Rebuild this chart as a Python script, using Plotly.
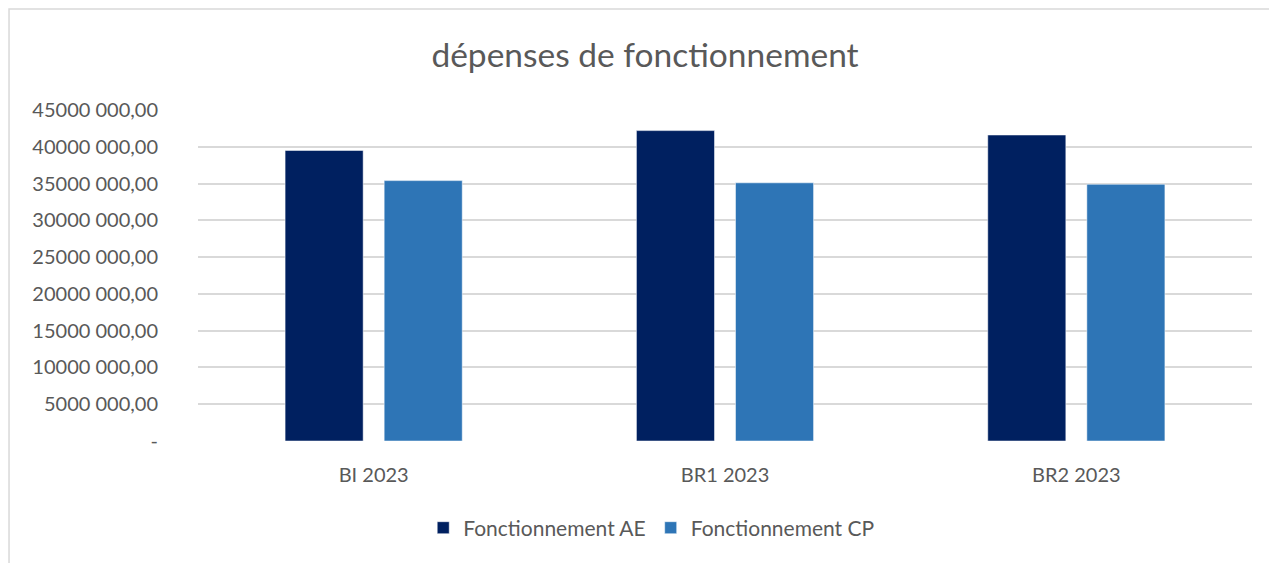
import plotly.graph_objects as go

categories = ["BI 2023", "BR1 2023", "BR2 2023"]
ae_values = [39500000, 42200000, 41600000]
cp_values = [35400000, 35100000, 34900000]

tick_vals = [0, 5e6, 10e6, 15e6, 20e6, 25e6, 30e6, 35e6, 40e6, 45e6]
tick_text = ["-", "5000 000,00", "10000 000,00", "15000 000,00", "20000 000,00",
             "25000 000,00", "30000 000,00", "35000 000,00", "40000 000,00",
             "45000 000,00"]

TEXT = "#595959"
GRID = "#D9D9D9"
FONT = "Lato, Open Sans, sans-serif"

fig = go.Figure()
fig.add_trace(go.Bar(x=categories, y=ae_values, name="Fonctionnement AE",
                     marker_color="#002060"))
fig.add_trace(go.Bar(x=categories, y=cp_values, name="Fonctionnement CP",
                     marker_color="#2E75B6"))

fig.update_layout(
    width=1269, height=555,
    template="plotly_white",
    barmode="group",
    bargap=0.436,
    bargroupgap=0.212,
    margin=dict(l=190, r=25, t=102, b=122),
    font=dict(family=FONT, color=TEXT, size=20),
    title=dict(text="dépenses de fonctionnement", x=0.502, xanchor="center",
               y=0.915, yanchor="middle", font=dict(size=33.5, color=TEXT)),
    legend=dict(orientation="h", x=0.43, xanchor="center", y=-0.263,
                yanchor="middle", font=dict(size=21, color=TEXT),
                itemwidth=30, traceorder="normal"),
    plot_bgcolor="white",
    paper_bgcolor="white",
    shapes=[dict(type="rect", xref="paper", yref="paper",
                 x0=-0.1793, x1=1.2, y0=-0.6, y1=1.305,
                 line=dict(color=GRID, width=1.5), layer="below")],
)
fig.update_xaxes(showgrid=False, zeroline=False, showline=False,
                 ticklabelstandoff=20, tickfont=dict(size=20, color=TEXT))
fig.update_yaxes(range=[0, 45e6], tickvals=tick_vals, ticktext=tick_text,
                 showgrid=True, gridcolor=GRID, gridwidth=2, zeroline=False,
                 ticklabelstandoff=39, tickfont=dict(size=20, color=TEXT))

fig.write_html("out.html")
